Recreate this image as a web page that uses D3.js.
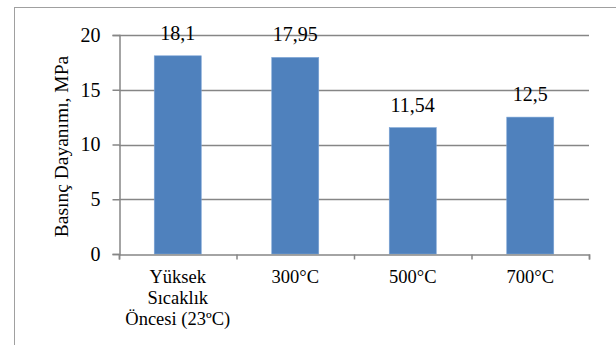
<!DOCTYPE html>
<html><head><meta charset="utf-8">
<script src="https://cdn.jsdelivr.net/npm/d3@7"></script>
<style>body{margin:0;background:#fff}svg{display:block}</style>
</head><body>
<svg id="c" width="616" height="345"></svg>
<script>
const categories = [["Yüksek","Sıcaklık","Öncesi (23ºC)"],["300°C"],["500°C"],["700°C"]];
const values = [18.1, 17.95, 11.54, 12.5];
const valueLabels = ["18,1","17,95","11,54","12,5"];
const yTicks = [0,5,10,15,20];
const yTitle = "Basınç Dayanımı, MPa";

const SERIF = "Liberation Serif";
const svg = d3.select("#c");
const L=119, R=589, T=35, B=254;
svg.append("rect").attr("x",14.5).attr("y",7.5).attr("width",640).attr("height",400)
  .attr("fill","none").attr("stroke","#a0a0a0").attr("stroke-width",1);

const x = d3.scaleBand().domain(d3.range(values.length)).range([L,R]).paddingInner(0.6).paddingOuter(0.3);
const y = d3.scaleLinear().domain([0,20]).range([B,T]);

// gridlines
svg.append("g").selectAll("line").data(yTicks.filter(d=>d>0)).join("line")
  .attr("x1",L).attr("x2",R).attr("y1",d=>Math.round(y(d))+0.5).attr("y2",d=>Math.round(y(d))+0.5)
  .attr("stroke","#868686").attr("stroke-width",1.5);

// bars
svg.append("g").selectAll("rect").data(values).join("rect")
  .attr("x",(d,i)=>x(i)).attr("width",x.bandwidth())
  .attr("y",d=>y(d)).attr("height",d=>B-y(d))
  .attr("fill","#4F81BD").attr("stroke","#7aa3d6").attr("stroke-width",0.6);

// y axis
const ya = svg.append("g").attr("transform",`translate(${L+0.5},0)`)
  .call(d3.axisLeft(y).tickValues(yTicks).tickSize(7).tickPadding(12).tickFormat(d3.format("d")));
ya.attr("font-family",SERIF).attr("font-size",20);
ya.select(".domain").attr("stroke","#868686").attr("stroke-width",1.5);
ya.selectAll(".tick line").attr("stroke","#868686").attr("stroke-width",1.5);
ya.selectAll(".tick text").attr("fill","#000");

// x axis
const xb = d3.scaleLinear().domain([0,values.length]).range([L,R]);
const xa = svg.append("g").attr("transform",`translate(0,${B+0.5})`)
  .call(d3.axisBottom(xb).tickValues(d3.range(values.length+1)).tickSize(5).tickFormat(""));
xa.select(".domain").attr("stroke","#868686").attr("stroke-width",1.5);
xa.selectAll(".tick line").attr("stroke","#868686").attr("stroke-width",1.5);

// x labels
const xl = svg.append("g").attr("font-family",SERIF).attr("font-size",18.5)
  .selectAll("text").data(categories).join("text")
  .attr("text-anchor","middle")
  .attr("transform",(d,i)=>`translate(${x(i)+x.bandwidth()/2},${B+29})`);
xl.selectAll("tspan").data(d=>d).join("tspan").attr("x",0).attr("dy",(d,j)=>j===0?0:21).text(d=>d);

// value labels
svg.append("g").attr("font-family",SERIF).attr("font-size",20)
  .selectAll("text").data(values).join("text")
  .attr("x",(d,i)=>x(i)+x.bandwidth()/2).attr("y",d=>y(d)-16)
  .attr("text-anchor","middle").text((d,i)=>valueLabels[i]);

// y title
svg.append("text").attr("transform",`translate(68,${(T+B)/2+2}) rotate(-90)`)
  .attr("text-anchor","middle").attr("font-size",19.5).attr("font-family",SERIF).text(yTitle);
</script>
</body></html>
